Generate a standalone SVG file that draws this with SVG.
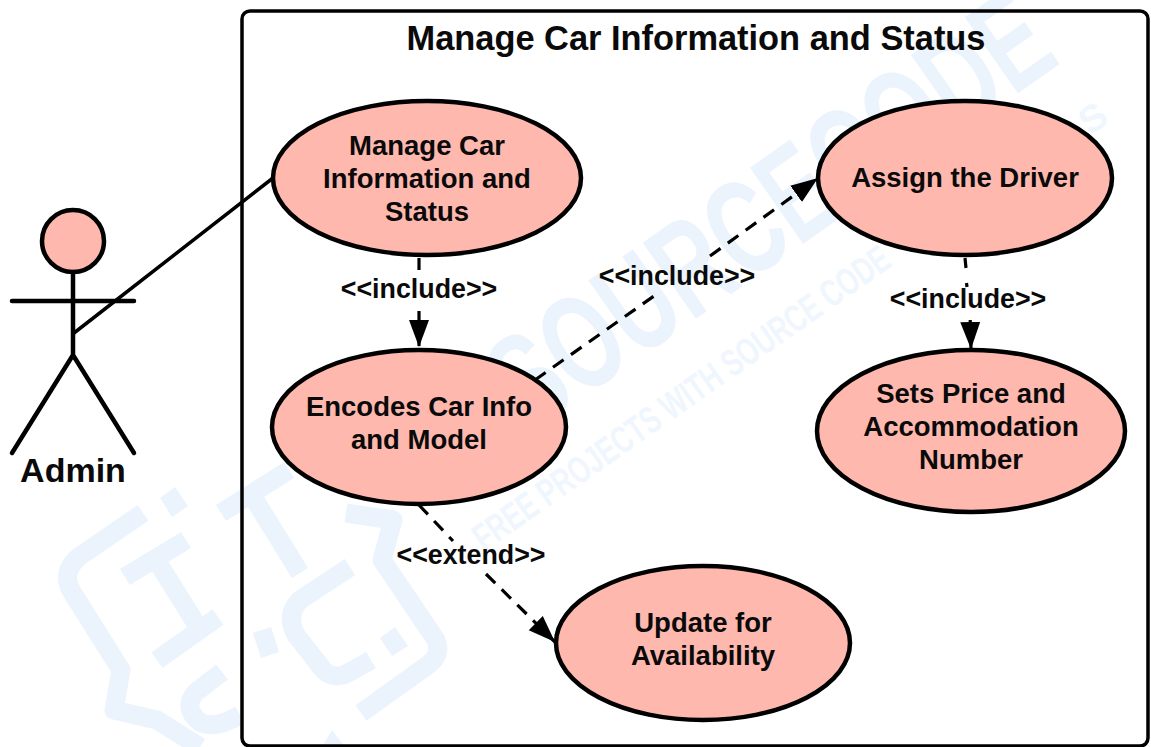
<svg xmlns="http://www.w3.org/2000/svg" width="1151" height="747" viewBox="0 0 1151 747">
<style>
text{font-family:"Liberation Sans",Arial,sans-serif;font-weight:700;fill:#0a0a0a;text-anchor:middle}
.n{font-size:27.5px}
.l{font-size:26.8px}
.uc{fill:#ffb8ae;stroke:#000;stroke-width:4.5}
.s{fill:none;stroke:#000;stroke-width:3.5;stroke-linecap:round}
.a{fill:none;stroke:#000;stroke-width:4.5;stroke-linecap:round;stroke-linejoin:round}
.d{fill:none;stroke:#000;stroke-width:3.2;stroke-dasharray:13 9}
.wm{fill:none;stroke:#ebf3fd;stroke-width:19;stroke-linejoin:round}
.wt{fill:#ebf3fd;font-weight:700;text-anchor:start}
.ws{fill:#f0f6fe;font-weight:700;text-anchor:start}
</style>
<defs>
<marker id="a" markerUnits="userSpaceOnUse" markerWidth="28" markerHeight="22" refX="27" refY="11" orient="auto"><path d="M0 1 L27 11 L0 21 Z" fill="#000"/></marker>
</defs>
<rect width="1151" height="747" fill="#fff"/>
<g id="watermark">
<path class="wm" d="M143 513 L80 556 Q60 572 72 592 L121 670 L114 710 L157 720 L200 747"/>
<path class="wm" d="M186 540 L125 577 M155 558 L200 630 M218 617 L157 660"/>
<path class="wm" d="M289 470 L221 513 M253 497 L300 573"/>
<path class="wm" d="M350 567 L300 600 Q285 615 296 635 L321 667 Q332 682 350 672 L371 660"/>
<path class="wm" d="M346 513 L393 520 L382 560 L436 640 Q442 655 428 665 L361 713"/>
<path class="wm" d="M222 672 L196 692 Q182 708 200 722 Q214 730 240 715 M262 630 L270 655"/>
<path fill="#ebf3fd" d="M175 487 L188 506 L172 517 L160 498 Z M395 627 L408 646 L392 656 L380 638 Z M332 730 L345 747 L322 747 Z"/>
<text class="wt" transform="translate(530 435) rotate(-35)" font-size="135" textLength="650" lengthAdjust="spacingAndGlyphs">SOURCECODE</text>
<text class="ws" transform="translate(484 552) rotate(-35)" font-size="38" textLength="500" lengthAdjust="spacingAndGlyphs">FREE PROJECTS WITH SOURCE CODE</text>
<text class="ws" transform="translate(1090 136) rotate(-35)" font-size="38">S</text>
</g>
<g id="system">
<rect x="242" y="11" width="906" height="735" rx="8" fill="none" stroke="#000" stroke-width="3.5"/>
<text x="696" y="50" font-size="34.4">Manage Car Information and Status</text>
</g>
<g id="connectors">
<line class="s" x1="273" y1="178" x2="74" y2="333"/>
<path class="d" d="M419 258 V270"/>
<path class="d" d="M419 311 V347" marker-end="url(#a)"/>
<path class="d" d="M535 380 L654 296"/>
<path class="d" d="M710 256 L818 178" marker-end="url(#a)"/>
<path class="d" d="M965 258 L966 268"/>
<path class="d" d="M966.500 283 L967 287"/>
<path class="d" d="M970.200 320 L971 349" stroke-dasharray="none" marker-end="url(#a)"/>
<path class="d" d="M419 505 L453 541"/>
<path class="d" d="M486 574 L555 642" marker-end="url(#a)"/>
<text class="l" x="419" y="298">&lt;&lt;include&gt;&gt;</text>
<text class="l" x="677" y="285">&lt;&lt;include&gt;&gt;</text>
<text class="l" x="968" y="308">&lt;&lt;include&gt;&gt;</text>
<text class="l" x="471" y="564">&lt;&lt;extend&gt;&gt;</text>
</g>
<g id="admin">
<circle class="uc" cx="73" cy="241" r="31"/>
<path class="a" d="M73 272 V355 M12 301 H134 M12 453 L73 355 L134 453"/>
<text x="73" y="482" font-size="34">Admin</text>
</g>
<g id="uc-manage">
<ellipse class="uc" cx="427" cy="178" rx="154" ry="77"/>
<text class="n" x="427" y="155">Manage Car</text>
<text class="n" x="427" y="188">Information and</text>
<text class="n" x="427" y="221">Status</text>
</g>
<g id="uc-encodes">
<ellipse class="uc" cx="419" cy="427" rx="147" ry="77"/>
<text class="n" x="419" y="416">Encodes Car Info</text>
<text class="n" x="419" y="449">and Model</text>
</g>
<g id="uc-assign">
<ellipse class="uc" cx="965" cy="178" rx="147" ry="77"/>
<text class="n" x="965" y="187">Assign the Driver</text>
</g>
<g id="uc-sets">
<ellipse class="uc" cx="971" cy="431" rx="154" ry="81"/>
<text class="n" x="971" y="403">Sets Price and</text>
<text class="n" x="971" y="436">Accommodation</text>
<text class="n" x="971" y="469">Number</text>
</g>
<g id="uc-update">
<ellipse class="uc" cx="703" cy="643" rx="147" ry="77"/>
<text class="n" x="703" y="632">Update for</text>
<text class="n" x="703" y="665">Availability</text>
</g>
</svg>
